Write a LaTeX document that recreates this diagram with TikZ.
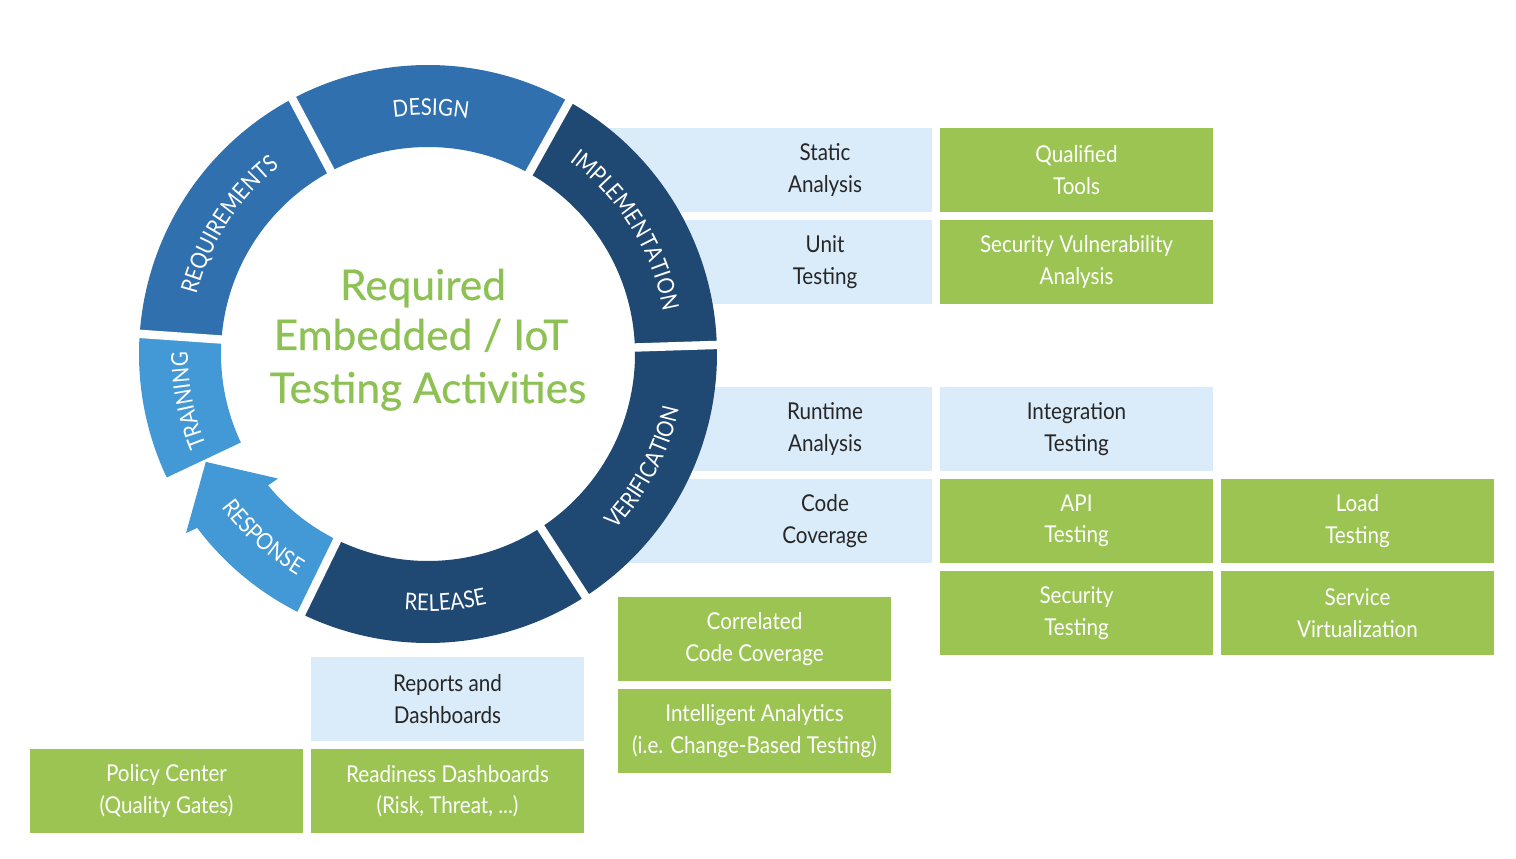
\documentclass[tikz,border=0pt]{standalone}
\usepackage{fontspec}
\setmainfont{Lato}
\newfontfamily\boxfont[FakeStretch=0.89]{Lato}
\newfontfamily\ringfont[FakeStretch=0.88]{Lato}
\newfontfamily\titlefont[FakeBold=0.5]{Lato}
\usetikzlibrary{decorations.text}
\definecolor{midblue}{HTML}{3070AE}
\definecolor{navy}{HTML}{1F4873}
\definecolor{lightring}{HTML}{4398D6}
\definecolor{lightbox}{HTML}{DAECFA}
\definecolor{boxgreen}{HTML}{9BC453}
\definecolor{titlegreen}{HTML}{8DC153}
\definecolor{darktext}{HTML}{262626}
\newcommand\rf{\ringfont\fontsize{11.6}{13}\selectfont}
\newcommand\ringseg[3]{\fill[#1] (#2:289) arc[start angle=#2, end angle=#3, radius=289] -- (#3:207) arc[start angle=#3, end angle=#2, radius=207] -- cycle;}
\begin{document}
\begin{tikzpicture}[x=0.5pt,y=0.5pt,
  box/.style={minimum width=136.5pt, minimum height=42pt, inner sep=0pt, align=center,
    font=\boxfont\fontsize{11.6}{15.8}\selectfont},
  greenbox/.style={box, fill=boxgreen, text=white},
  bluebox/.style={box, fill=lightbox, text=darktext},
  bluefill/.style={fill=lightbox, inner sep=0pt, minimum height=42pt, anchor=east},
  bluetext/.style={inner sep=0pt, align=center, text=darktext, font=\boxfont\fontsize{11.6}{15.8}\selectfont},
  titletext/.style={anchor=base, inner sep=0pt, text=titlegreen, font=\titlefont\fontsize{21.2}{24}\selectfont},
  gapline/.style={draw=white, line width=4.2pt},
  ringlabel/.style={decorate, decoration={text along path, text align=center, text color=white, text={#1}}}
]
\useasboundingbox (0,0) rectangle (1516,858);
% background boxes partly hidden behind the ring
\node[bluefill, minimum width=181pt] (staticbg) at (932,688) {};
\node[bluefill, minimum width=181pt] (unitbg) at (932,596) {};
\node[bluefill, minimum width=178.5pt] (runtimebg) at (932,429) {};
\node[bluefill, minimum width=178.5pt] (codebg) at (932,337) {};
\node[bluetext] (static) at (825,688) {Static\\Analysis};
\node[bluetext] (unit) at (825,596) {Unit\\Testing};
\node[bluetext] (runtime) at (825,429) {Runtime\\Analysis};
\node[bluetext] (code) at (825,337) {Code\\Coverage};
% boxes
\node[greenbox] (qualified) at (1076.5,688) {Qualified\\Tools};
\node[greenbox] (secvuln) at (1076.5,596) {Security Vulnerability\\Analysis};
\node[bluebox] (integration) at (1076.5,429) {Integration\\Testing};
\node[greenbox] (api) at (1076.5,337) {API\\Testing};
\node[greenbox] (load) at (1357.5,337) {Load\\Testing};
\node[greenbox] (sectest) at (1076.5,245) {Security\\Testing};
\node[greenbox] (service) at (1357.5,245) {Service\\Virtualization};
\node[greenbox] (correlated) at (754.5,219) {Correlated\\Code Coverage};
\node[greenbox] (intelligent) at (754.5,127) {Intelligent Analytics\\(i.e. Change-Based Testing)};
\node[bluebox] (reports) at (447.5,159) {Reports and\\Dashboards};
\node[greenbox] (readiness) at (447.5,67) {Readiness Dashboards\\(Risk, Threat, ...)};
\node[greenbox] (policy) at (166.5,67) {Policy Center\\(Quality Gates)};
% ring
\begin{scope}[shift={(428,504)}]
  \fill[white] (0,0) circle[radius=207];
  \ringseg{midblue}{176}{118}
  \ringseg{midblue}{118}{60.8}
  \ringseg{navy}{60.8}{1.8}
  \ringseg{navy}{1.8}{-57}
  \ringseg{navy}{-57}{-116}
  \ringseg{lightring}{205.3}{176}
  \fill[lightring] (244:289) arc[start angle=244, end angle=217, radius=289]
    -- (216.5:301) -- (205.9:247) -- (219.7:195) -- (219.4:207)
    arc[start angle=219.4, end angle=244, radius=207] -- cycle;
  \foreach \a in {176,118,60.8,1.8,-57,244} {\draw[gapline] (\a:199) -- (\a:297);}
  \path[ringlabel={|\rf|REQUIREMENTS}] (180:239) arc[start angle=180, end angle=114, radius=239];
  \path[ringlabel={|\rf|DESIGN}] (119.3:239) arc[start angle=119.3, end angle=59.3, radius=239];
  \path[ringlabel={|\rf|IMPLEMENTATION}] (62:239) arc[start angle=62, end angle=2, radius=239];
  \path[ringlabel={|\rf|VERIFICATION}] (-57.7:257) arc[start angle=-57.7, end angle=2.3, radius=257];
  \path[ringlabel={|\rf|RELEASE}] (-116:257) arc[start angle=-116, end angle=-56, radius=257];
  \path[ringlabel={|\rf|RESPONSE}] (198:257) arc[start angle=198, end angle=258, radius=257];
  \path[ringlabel={|\rf|TRAINING}] (221:240) arc[start angle=221, end angle=161, radius=240];
\end{scope}
% title
\node[titletext] (title1) at (423,558) {Required};
\node[titletext] (title2) at (421,508) {Embedded / IoT};
\node[titletext] (title3) at (428,455) {Testing Activities};
\end{tikzpicture}
\end{document}
